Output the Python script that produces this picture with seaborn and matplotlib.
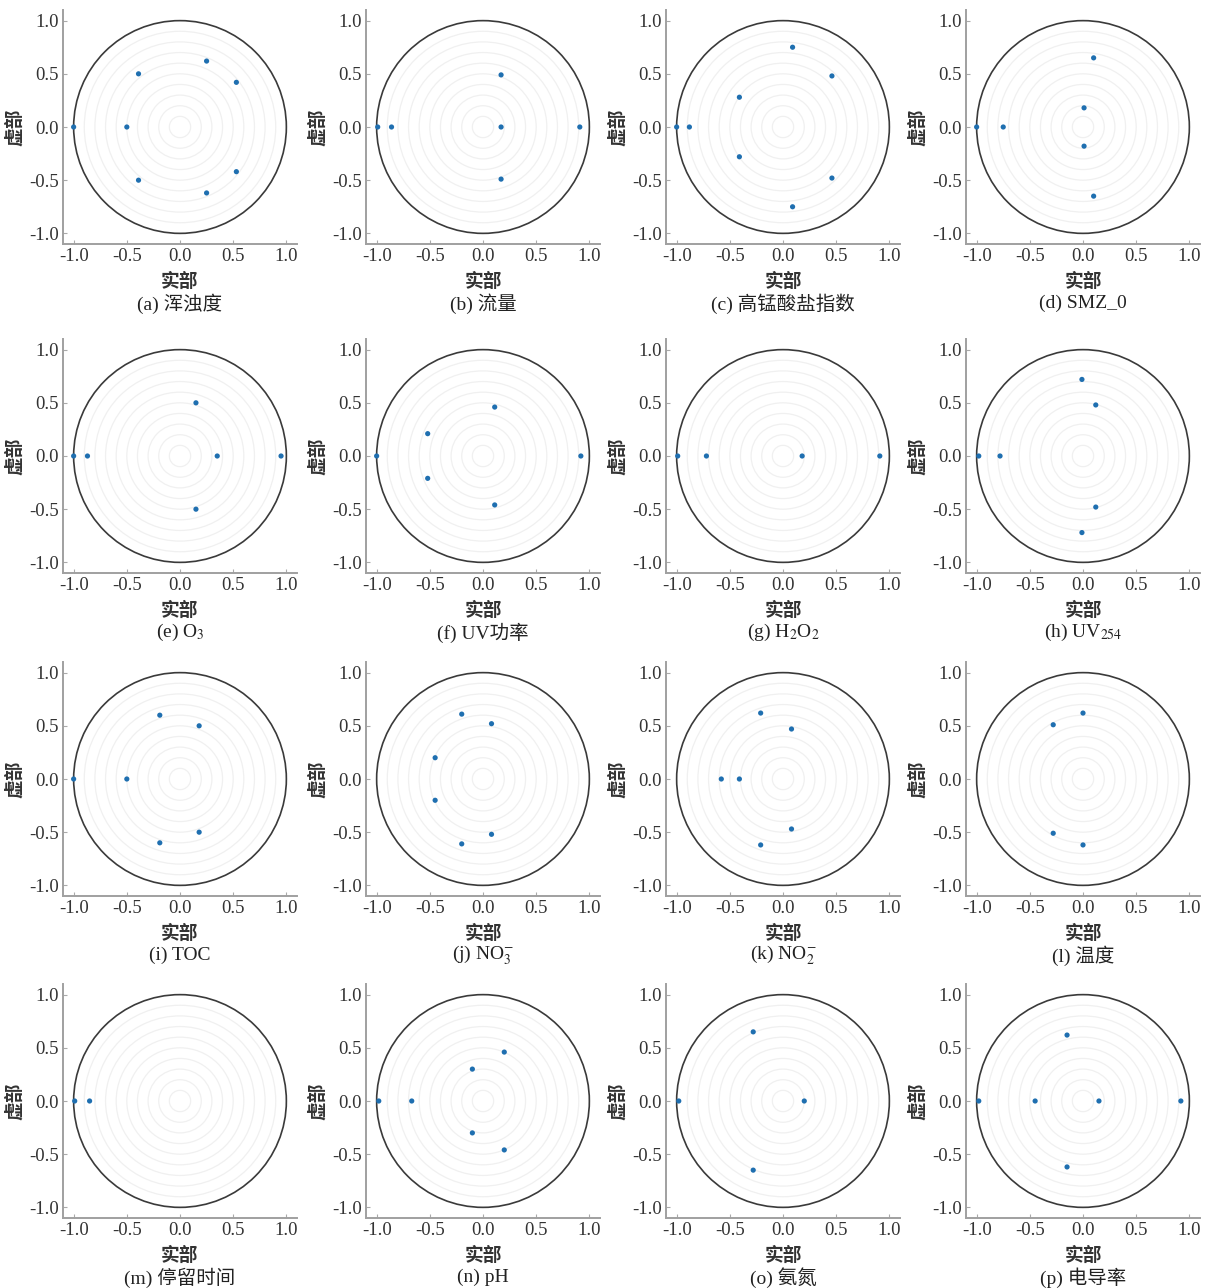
import numpy as np
import pandas as pd
import matplotlib
matplotlib.use("Agg")
import matplotlib.pyplot as plt
import seaborn as sns

# =====================================================
# DATA : poles of each transfer function (real / imag)
# =====================================================

re_a = [-1.0, -0.5, -0.39, -0.39, 0.25, 0.25, 0.53, 0.53]
im_a = [0.0, 0.0, 0.5, -0.5, 0.62, -0.62, 0.42, -0.42]

re_b = [-0.99, -0.86, 0.17, 0.17, 0.17, 0.91]
im_b = [0.0, 0.0, 0.0, 0.49, -0.49, 0.0]

re_c = [-1.0, -0.88, -0.41, -0.41, 0.09, 0.09, 0.46, 0.46]
im_c = [0.0, 0.0, 0.28, -0.28, 0.75, -0.75, 0.48, -0.48]

re_d = [-1.0, -0.75, 0.01, 0.01, 0.1, 0.1]
im_d = [0.0, 0.0, 0.18, -0.18, 0.65, -0.65]

re_e = [-1.0, -0.87, 0.15, 0.15, 0.35, 0.95]
im_e = [0.0, 0.0, 0.5, -0.5, 0.0, 0.0]

re_f = [-1.0, -0.52, -0.52, 0.11, 0.11, 0.92]
im_f = [0.0, 0.21, -0.21, 0.46, -0.46, 0.0]

re_g = [-0.99, -0.72, 0.18, 0.91]
im_g = [0.0, 0.0, 0.0, 0.0]

re_h = [-0.98, -0.78, -0.01, -0.01, 0.12, 0.12]
im_h = [0.0, 0.0, 0.72, -0.72, 0.48, -0.48]

re_i = [-1.0, -0.5, -0.19, -0.19, 0.18, 0.18]
im_i = [0.0, 0.0, 0.6, -0.6, 0.5, -0.5]

re_j = [-0.45, -0.45, -0.2, -0.2, 0.08, 0.08]
im_j = [0.2, -0.2, 0.61, -0.61, 0.52, -0.52]

re_k = [-0.58, -0.41, -0.21, -0.21, 0.08, 0.08]
im_k = [0.0, 0.0, 0.62, -0.62, 0.47, -0.47]

re_l = [-0.28, -0.28, 0.0, 0.0]
im_l = [0.51, -0.51, 0.62, -0.62]

re_m = [-0.99, -0.85]
im_m = [0.0, 0.0]

re_n = [-0.98, -0.67, -0.1, -0.1, 0.2, 0.2]
im_n = [0.0, 0.0, 0.3, -0.3, 0.46, -0.46]

re_o = [-0.98, -0.28, -0.28, 0.2]
im_o = [0.0, 0.65, -0.65, 0.0]

re_p = [-0.98, -0.45, -0.15, -0.15, 0.15, 0.92]
im_p = [0.0, 0.0, 0.62, -0.62, 0.0, 0.0]

captions = [
    "(a) 浑浊度", "(b) 流量", "(c) 高锰酸盐指数", "(d) SMZ_0",
    "(e) O$_3$", "(f) UV功率", "(g) H$_2$O$_2$", "(h) UV$_{254}$",
    "(i) TOC", "(j) NO$_3^{-}$", "(k) NO$_2^{-}$", "(l) 温度",
    "(m) 停留时间", "(n) pH", "(o) 氨氮", "(p) 电导率",
]

ticks = [-1.0, -0.5, 0.0, 0.5, 1.0]
tick_labels = ["-1.0", "-0.5", "0.0", "0.5", "1.0"]
grid_radii = [0.1, 0.2, 0.3, 0.4, 0.5, 0.6, 0.7, 0.8, 0.9]

panels = [
    (re_a, im_a), (re_b, im_b), (re_c, im_c), (re_d, im_d),
    (re_e, im_e), (re_f, im_f), (re_g, im_g), (re_h, im_h),
    (re_i, im_i), (re_j, im_j), (re_k, im_k), (re_l, im_l),
    (re_m, im_m), (re_n, im_n), (re_o, im_o), (re_p, im_p),
]

# =====================================================
# STYLE
# =====================================================

sns.set_style("ticks")
plt.rcParams["font.family"] = ["Liberation Serif", "Noto Sans CJK SC"]
plt.rcParams["mathtext.fontset"] = "stix"
plt.rcParams["axes.unicode_minus"] = False

cjk = ["Noto Sans CJK SC", "DejaVu Sans"]
mixed = ["Liberation Serif", "Noto Sans CJK SC"]

W, H = 1212, 1288
fig = plt.figure(figsize=(W / 100, H / 100), dpi=100)

col_left = [63, 366, 666, 966]
row_top = [10, 339, 662, 984]
box = 234

# =====================================================
# PANELS
# =====================================================

for k, (re, im) in enumerate(panels):
    r, c = divmod(k, 4)
    ax = fig.add_axes([col_left[c] / W, 1 - (row_top[r] + box) / H, box / W, box / H])

    # light concentric rings
    for rad in grid_radii:
        ax.add_patch(plt.Circle((0, 0), rad, fill=False, color="#f0f0f0", lw=0.9))
    # unit circle
    ax.add_patch(plt.Circle((0, 0), 1.0, fill=False, color="#3a3a3a", lw=1.2))

    df = pd.DataFrame({"re": re, "im": im})
    sns.scatterplot(data=df, x="re", y="im", ax=ax, color="#1f6fb0", s=14,
                    edgecolor="none", zorder=5)

    ax.set_xlim(-1.1, 1.1)
    ax.set_ylim(-1.1, 1.1)
    ax.set_xticks(ticks)
    ax.set_yticks(ticks)
    ax.set_xticklabels(tick_labels)
    ax.set_yticklabels(tick_labels)
    ax.tick_params(direction="in", length=3, width=0.8, color="#aaaaaa",
                   labelsize=13.5, pad=3, labelcolor="#333333")

    sns.despine(ax=ax)
    for side in ["left", "bottom"]:
        ax.spines[side].set_color("#a0a0a0")
        ax.spines[side].set_linewidth(1.4)

    ax.set_xlabel("实部", family=cjk, fontsize=13.5, fontweight="bold", color="#333333")
    ax.set_ylabel("虚部", family=cjk, fontsize=13.5, fontweight="bold", color="#333333")
    ax.xaxis.set_label_coords(0.5, -0.12)
    ax.yaxis.set_label_coords(-0.165, 0.5)

    ax.text(0.5, -0.255, captions[k], transform=ax.transAxes, ha="center",
            va="center", fontsize=14, family=mixed, color="#222222")

fig.savefig("out.png", dpi=100)
